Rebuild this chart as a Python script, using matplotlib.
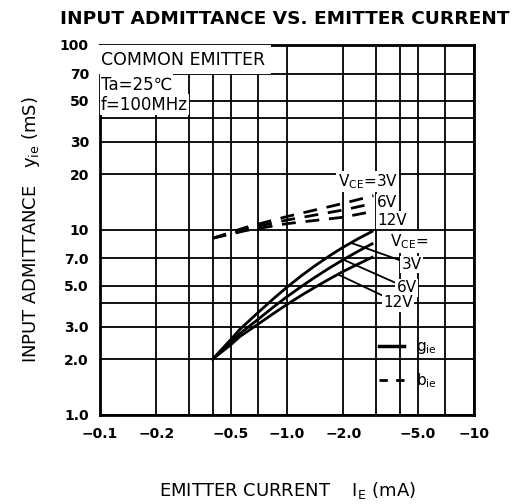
import numpy as np
import matplotlib.pyplot as plt
from matplotlib.lines import Line2D

plt.rcParams['font.family'] = ['DejaVu Sans']
plt.rcParams['mathtext.fontset'] = 'dejavusans'

# emitter current magnitude (mA), axis shows it as negative
ie_g = [0.4, 0.5, 0.56, 0.7, 0.85, 1.0, 1.2, 1.4, 1.7, 2.0, 2.4, 2.85]
g_3v = [2.0, 2.55, 2.9, 3.57, 4.26, 4.9, 5.67, 6.36, 7.27, 8.06, 8.95, 9.8]
g_6v = [2.0, 2.46, 2.75, 3.28, 3.84, 4.35, 4.96, 5.51, 6.25, 6.9, 7.66, 8.4]
g_12v = [2.0, 2.39, 2.65, 3.09, 3.54, 3.95, 4.44, 4.87, 5.45, 5.96, 6.53, 7.1]

ie_b = [0.4, 0.6, 1.0, 2.0, 2.9]
b_3v = [9.0, 10.3, 11.8, 13.9, 15.3]
b_6v = [9.0, 10.1, 11.3, 12.8, 13.9]
b_12v = [9.0, 9.9, 10.8, 11.7, 12.6]

x_major = [0.1, 0.2, 0.5, 1.0, 2.0, 5.0, 10]
x_labels = ['\u22120.1', '\u22120.2', '\u22120.5', '\u22121.0', '\u22122.0', '\u22125.0', '\u221210']
x_minor = [0.3, 0.4, 0.7, 3, 4, 7]
y_major = [1, 2, 3, 5, 7, 10, 20, 30, 50, 70, 100]
y_labels = ['1.0', '2.0', '3.0', '5.0', '7.0', '10', '20', '30', '50', '70', '100']
y_minor = [4, 40]

fig = plt.figure(figsize=(5.13, 5.04), dpi=100)
ax = fig.add_axes([0.195, 0.177, 0.729, 0.734])
ax.set_xscale('log')
ax.set_yscale('log')
ax.set_xlim(0.1, 10)
ax.set_ylim(1, 100)

ax.set_xticks(x_major)
ax.set_xticklabels(x_labels, fontsize=10, fontweight='bold')
ax.set_xticks(x_minor, minor=True)
ax.set_xticklabels([], minor=True)
ax.set_yticks(y_major)
ax.set_yticklabels(y_labels, fontsize=10, fontweight='bold')
ax.set_yticks(y_minor, minor=True)
ax.set_yticklabels([], minor=True)
ax.tick_params(axis='x', which='both', length=0, pad=9)
ax.tick_params(axis='y', which='both', length=0, pad=8)
ax.grid(True, which='both', color='black', linewidth=1.3)
for s in ax.spines.values():
    s.set_linewidth(2)

# g_ie solid curves
for y in [g_3v, g_6v, g_12v]:
    ax.plot(ie_g, y, color='black', linewidth=2)
# b_ie dashed curves
for y in [b_3v, b_6v, b_12v]:
    ax.plot(ie_b, y, color='black', linewidth=2, dashes=(5, 3.5))

fs = 11
wb = dict(facecolor='white', edgecolor='none', pad=1)
ax.text(1.87, 18.2, 'V$_\\mathrm{CE}$=3V', fontsize=fs, va='center', bbox=wb)
ax.text(3.03, 14.0, '6V', fontsize=fs, va='center', bbox=wb)
ax.text(3.03, 11.3, '12V', fontsize=fs, va='center', bbox=wb)
ax.text(3.56, 8.6, 'V$_\\mathrm{CE}$=', fontsize=fs, va='center', bbox=wb)

for lab, xt, yt, xp, yp in [('3V', 4.1, 6.5, 2.2, 8.5),
                            ('6V', 3.86, 4.86, 2.0, 6.9),
                            ('12V', 3.26, 4.03, 1.9, 5.7)]:
    ax.annotate(lab, xy=(xp, yp), xytext=(xt, yt), fontsize=fs, va='center',
                bbox=wb, arrowprops=dict(arrowstyle='-', color='black', lw=1.3,
                                         shrinkA=0, shrinkB=0))

ax.text(0.101, 83, 'COMMON EMITTER', fontsize=12.5, va='center',
        bbox=dict(facecolor='white', edgecolor='none', pad=4))
ax.text(0.101, 61, 'Ta=25\u2103', fontsize=12, va='center', bbox=wb)
ax.text(0.101, 47.5, 'f=100MHz', fontsize=12, va='center', bbox=wb)

handles = [Line2D([], [], color='black', linewidth=2.5),
           Line2D([], [], color='black', linewidth=2, dashes=(3, 3))]
leg = ax.legend(handles, ['g$_\\mathrm{ie}$', 'b$_\\mathrm{ie}$'], loc='lower left',
                bbox_to_anchor=(0.71, 0.03), frameon=False, handlelength=1.6,
                labelspacing=1.0, fontsize=11)

fig.text(0.555, 0.963, 'INPUT ADMITTANCE VS. EMITTER CURRENT', ha='center',
         va='center', fontsize=13.3, fontweight='bold')
ax.set_xlabel('EMITTER CURRENT    I$_\\mathrm{E}$ (mA)', fontsize=13, labelpad=28)
ax.set_ylabel('INPUT ADMITTANCE   y$_\\mathrm{ie}$ (mS)', fontsize=13, labelpad=13)

fig.savefig('out.png', dpi=100)
